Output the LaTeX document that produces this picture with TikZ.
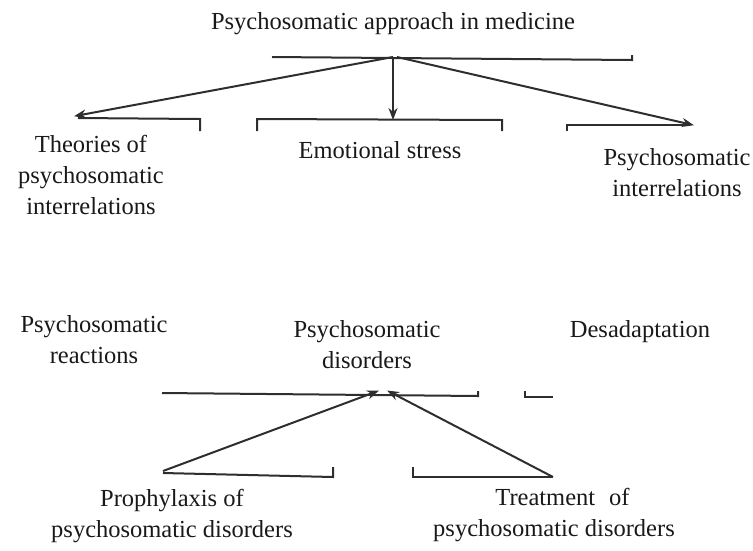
\documentclass[tikz,border=0pt]{standalone}
\usepackage{fontspec}
\setmainfont{Liberation Serif}
\usetikzlibrary{arrows.meta}
\begin{document}
\begin{tikzpicture}[x=1pt,y=-1pt,
  label/.style={inner sep=0pt, align=center, anchor=base,
    font=\fontsize{24.5}{31}\selectfont, text=black!90},
  frame/.style={draw=black!82, line width=2pt, line join=miter},
  arrow/.style={frame, -{Stealth[length=12pt,width=9pt]}, shorten >=-1pt}]
\useasboundingbox (0,0) rectangle (753,550);

% --- headings (anchor = baseline of the last line) -------------------------
\node[label] (title) at (393,29) {Psychosomatic approach in medicine};

\node[label] (theories) at (91,214) {Theories of\\psychosomatic\\interrelations};
\node[label] (stress)   at (380,158) {Emotional stress};
\node[label] (inter)    at (677,196) {Psychosomatic\\interrelations};

\node[label] (reactions) at (94,363) {Psychosomatic\\reactions};
\node[label] (disorders) at (367,368) {Psychosomatic\\disorders};
\node[label] (desad)     at (640,337) {Desadaptation};

\node[label] (prophyl) at (172,537) {Prophylaxis of\\psychosomatic disorders};
\node[label] (treat)   at (554,536) {\hspace*{17pt}Treatment\hspace{14pt}of\\psychosomatic disorders};

% --- box edges of the upper scheme ----------------------------------------
\coordinate (topApex)   at (393,57);
\coordinate (theoTip)   at (75,116);
\coordinate (stressTip) at (393,119);
\coordinate (interTip)  at (693,125);

\draw[frame] (272,57) -- (632,60) -- (632,55);
\draw[frame] (78,118) -- (200,119) -- (200,131);
\draw[frame] (257,131) -- (257,119) -- (502,120) -- (502,131);
\draw[frame] (567,131) -- (567,125) -- (690,125);

\draw[arrow] (topApex) -- (theoTip);
\draw[arrow] (topApex) -- (stressTip);
\draw[arrow] ([xshift=4pt]topApex) -- (interTip);

% --- box edges of the lower scheme ----------------------------------------
\coordinate (lowApexL) at (378,391);
\coordinate (lowApexR) at (388,391);
\coordinate (prophStart) at (163,471);
\coordinate (treatStart) at (553,477);

\draw[frame] (162,393) -- (478,396) -- (478,391);
\draw[frame] (525,391) -- (525,397) -- (553,397);
\draw[frame] (163,473) -- (333,477) -- (333,467);
\draw[frame] (413,467) -- (413,477) -- (553,477);

\draw[arrow] (prophStart) -- (lowApexL);
\draw[arrow] (treatStart) -- (lowApexR);
\end{tikzpicture}
\end{document}
